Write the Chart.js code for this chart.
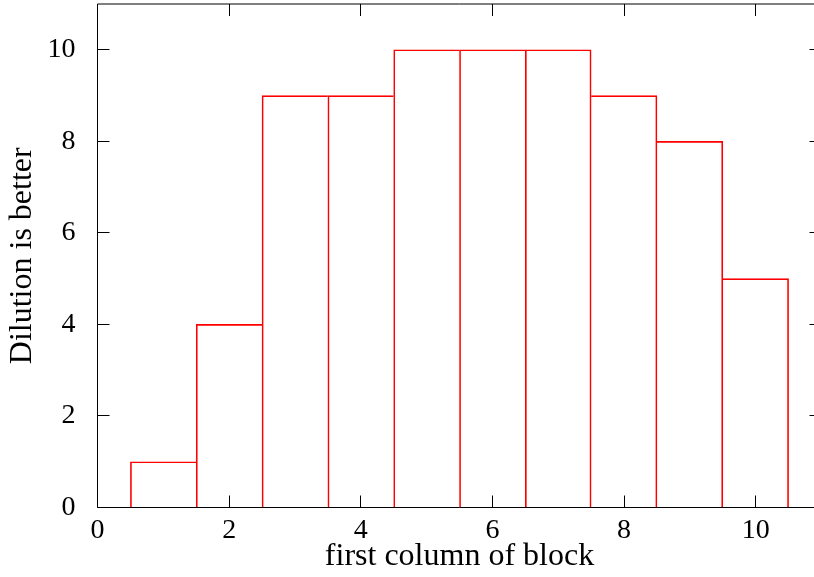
<!DOCTYPE html>
<html>
<head>
<meta charset="utf-8">
<script src="https://cdn.jsdelivr.net/npm/chart.js@4"></script>
<style>
  html, body { margin:0; padding:0; background:#fff; overflow:hidden; width:814px; height:577px; }
  canvas { display:block; }
</style>
</head>
<body>
<canvas id="c" width="830" height="577" style="width:830px;height:577px"></canvas>
<script>
const categories = [1, 2, 3, 4, 5, 6, 7, 8, 9, 10];
const values = [1, 4, 9, 9, 10, 10, 10, 9, 8, 5];
const xTickValues = [0, 2, 4, 6, 8, 10];
const yTickValues = [0, 2, 4, 6, 8, 10];
const xTitle = 'first column of block';
const yTitle = 'Dilution is better';

const FONT = "'Liberation Serif', 'Times New Roman', serif";

const framePlugin = {
  id: 'frame',
  afterDatasetsDraw(chart) {
    const {ctx, chartArea: a, scales: {x, y}} = chart;
    ctx.save();
    ctx.strokeStyle = '#000';
    ctx.lineWidth = 1;
    ctx.beginPath();
    ctx.moveTo(a.left, a.bottom); ctx.lineTo(a.right, a.bottom);
    ctx.moveTo(a.left, a.top); ctx.lineTo(a.right, a.top);
    ctx.moveTo(a.left, a.top); ctx.lineTo(a.left, a.bottom);
    ctx.moveTo(a.right, a.top); ctx.lineTo(a.right, a.bottom);
    const L = 12;
    xTickValues.forEach(v => {
      const px = Math.floor(x.getPixelForValue(v)) + 0.5;
      ctx.moveTo(px, a.bottom); ctx.lineTo(px, a.bottom - L);
      ctx.moveTo(px, a.top); ctx.lineTo(px, a.top + L);
    });
    yTickValues.forEach(v => {
      const py = Math.floor(y.getPixelForValue(v)) + 0.5;
      ctx.moveTo(a.left, py); ctx.lineTo(a.left + L, py);
      ctx.moveTo(a.right, py); ctx.lineTo(a.right - L, py);
    });
    ctx.stroke();
    ctx.restore();
  }
};

const n = values.length;
new Chart(document.getElementById('c'), {
  type: 'bar',
  data: {
    datasets: [{
      data: categories.map((c, i) => ({x: c, y: values[i]})),
      backgroundColor: 'rgba(0,0,0,0)',
      borderColor: '#ff0000',
      borderWidth: ctx => {
        const i = ctx.dataIndex;
        const left = (i === 0 || values[i - 1] <= values[i]) ? 1 : 0;
        const right = (i === n - 1 || values[i + 1] < values[i]) ? 1 : 0;
        return {top: 1, left: left, bottom: 0, right: right};
      },
      borderSkipped: false,
      barPercentage: 1.0,
      categoryPercentage: 1.0
    }]
  },
  options: {
    responsive: false,
    animation: false,
    events: [],
    layout: { padding: { top: 4, right: 8.5, bottom: 0, left: 0 } },
    plugins: { legend: { display: false }, tooltip: { enabled: false } },
    scales: {
      x: {
        type: 'linear',
        offset: false,
        min: 0, max: 11,
        grid: { display: false, drawTicks: false, offset: false },
        border: { display: false },
        afterBuildTicks: s => { s.ticks = xTickValues.map(v => ({value: v})); },
        ticks: { color: '#000', font: { family: FONT, size: 28 }, padding: 6, maxRotation: 0, autoSkip: false },
        title: { display: true, text: xTitle, color: '#000', font: { family: FONT, size: 32, lineHeight: 1.2 }, padding: { top: 0, bottom: 1 } },
        afterFit: s => { s.height = 577 - 507.5; s.paddingLeft = 0; s.paddingRight = 0; }
      },
      y: {
        type: 'linear',
        min: 0, max: 11,
        grid: { display: false, drawTicks: false },
        border: { display: false },
        afterBuildTicks: s => { s.ticks = yTickValues.map(v => ({value: v})); },
        ticks: { color: '#000', font: { family: FONT, size: 28 }, padding: 22, autoSkip: false },
        title: { display: true, text: yTitle, color: '#000', font: { family: FONT, size: 32, lineHeight: 1.2 }, padding: { top: 3, bottom: 0 } },
        afterFit: s => { s.width = 97.5; s.paddingTop = 0; s.paddingBottom = 0; }
      }
    }
  },
  plugins: [framePlugin]
});
</script>
</body>
</html>
